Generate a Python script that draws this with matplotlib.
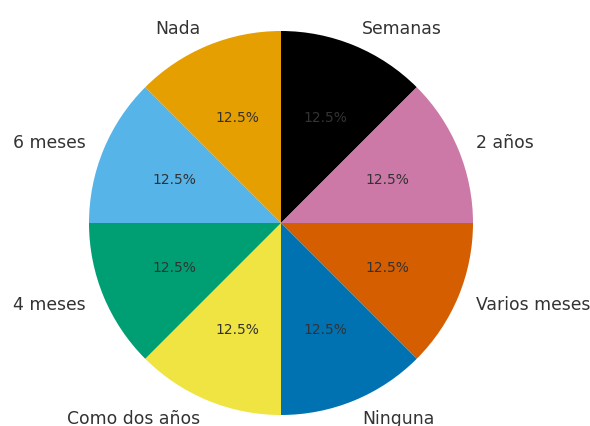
import matplotlib
matplotlib.use("Agg")
import matplotlib.pyplot as plt

labels = ["Semanas", "2 años", "Varios meses", "Ninguna",
          "Como dos años", "4 meses", "6 meses", "Nada"]
values = [1, 1, 1, 1, 1, 1, 1, 1]
colors = ["#000000", "#CC79A7", "#D55E00", "#0072B2",
          "#F0E442", "#009E73", "#56B4E9", "#E69F00"]

fig = plt.figure(figsize=(5.9, 4.27), dpi=100)
ax = fig.add_axes([0, 0, 1, 1])

wedges, texts, autotexts = ax.pie(values, labels=labels, colors=colors,
                                  autopct="%1.1f%%", startangle=90,
                                  counterclock=False,
                                  textprops={"color": "#333333"})
for t in texts:
    t.set_fontsize(12.4)
for t in autotexts:
    t.set_fontsize(10)

# place the pie: center (281, 224) px, radius 192 px
r = 192.0
cx, cy = 281, 224
ax.set_xlim(-cx / r, (590 - cx) / r)
ax.set_ylim(-(427 - cy) / r, cy / r)
ax.set_aspect("auto")
ax.axis("off")

fig.savefig("out.png", dpi=100)
